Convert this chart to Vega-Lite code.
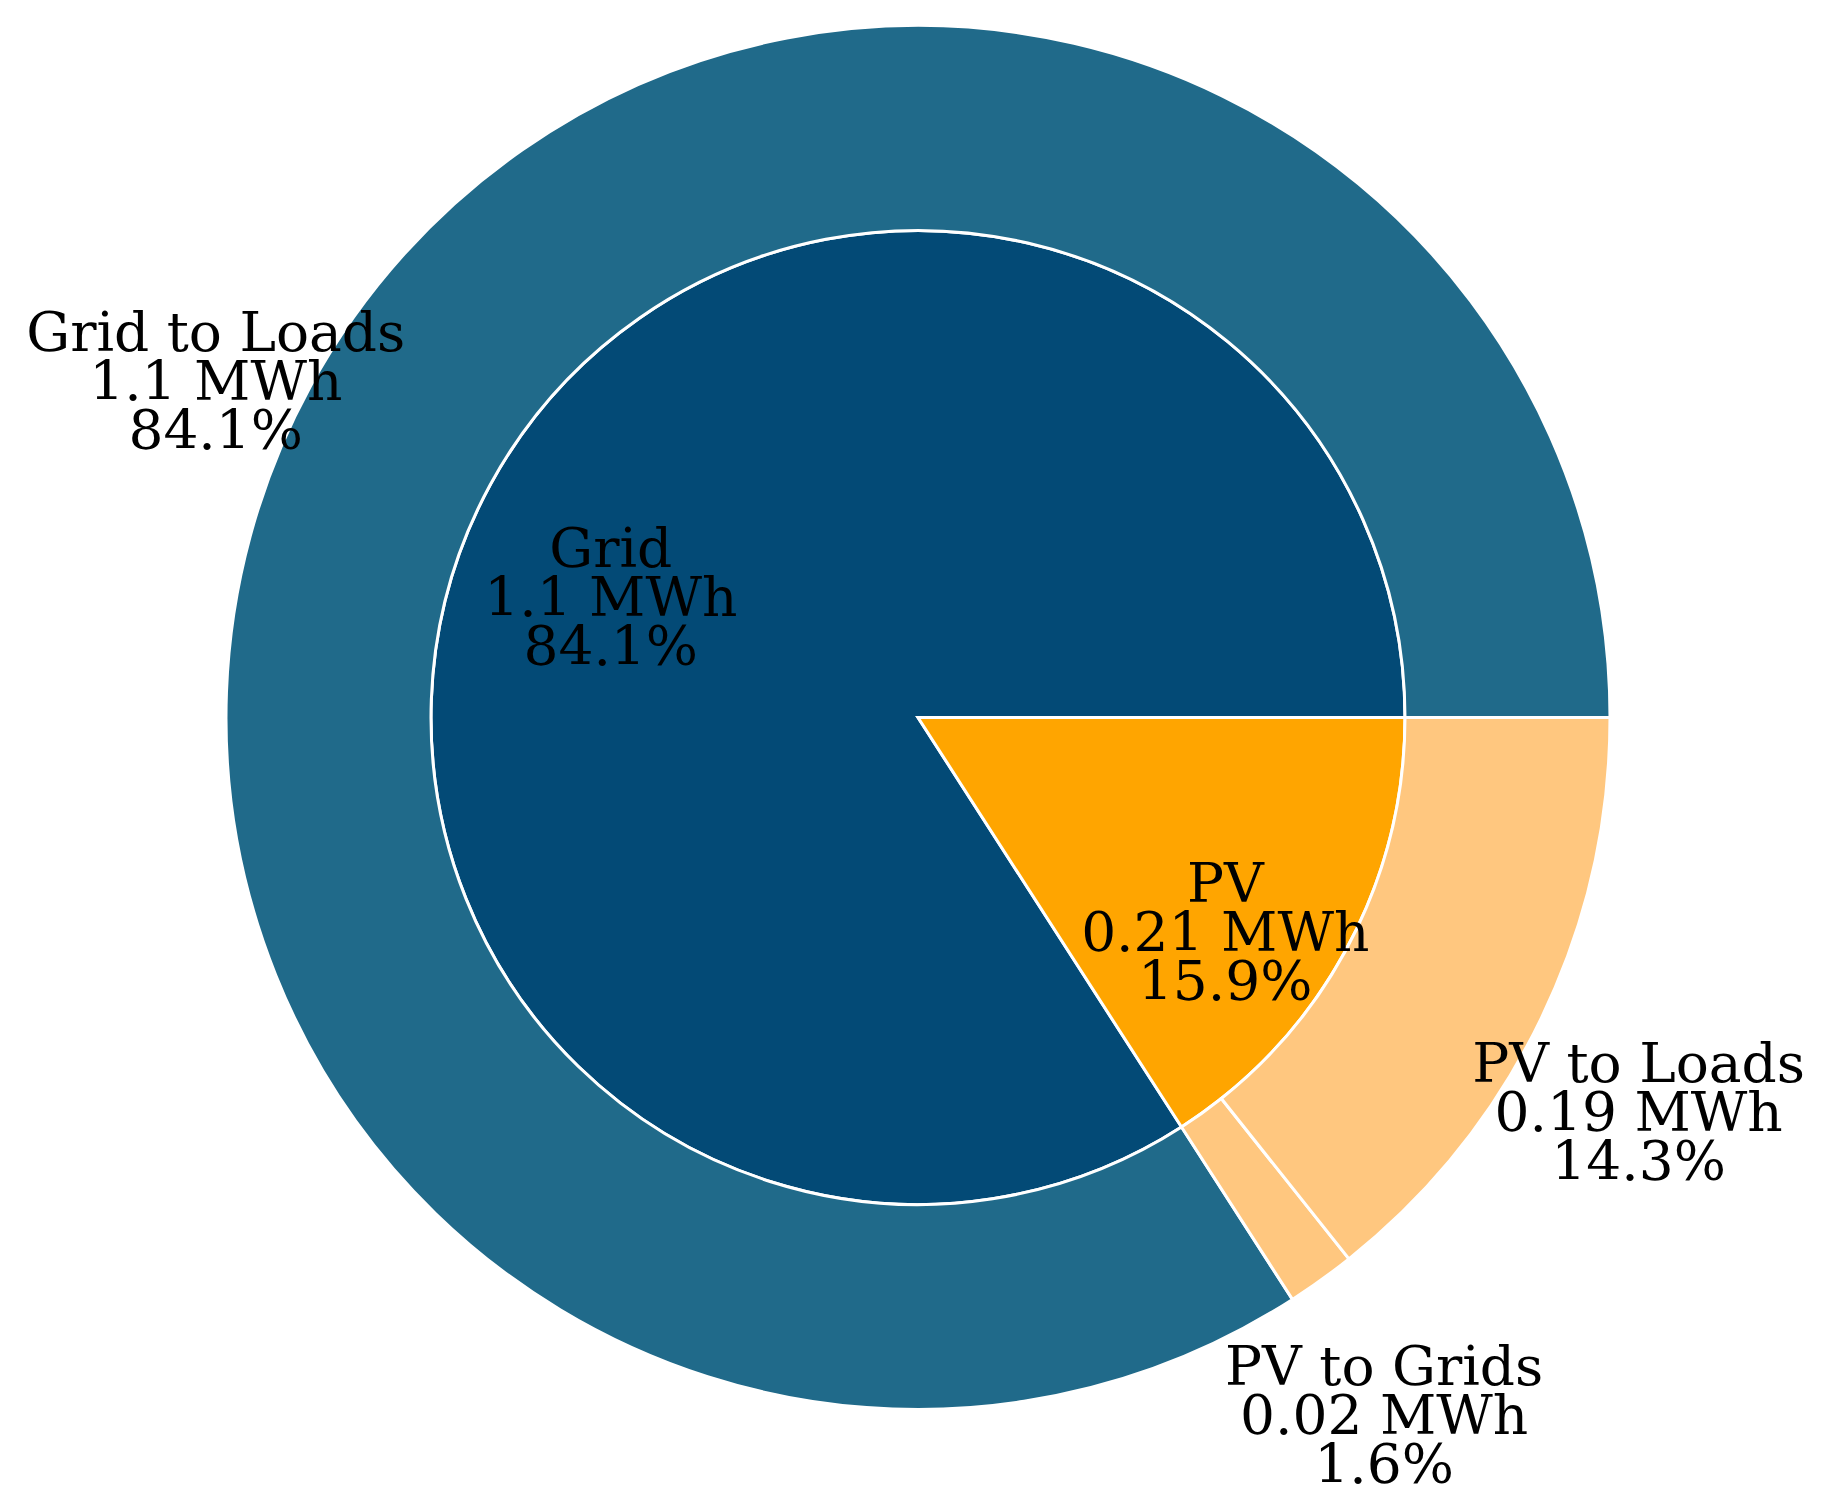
{
  "$schema": "https://vega.github.io/schema/vega-lite/v6.json",
  "width": 1808,
  "height": 1435,
  "autosize": "none",
  "padding": {"left": 14, "right": 0, "top": 0, "bottom": 72},
  "background": "white",
  "config": {"view": {"stroke": null}},
  "datasets": {
    "inner": [
      {"name": "Grid", "label": "Grid\n1.1 MWh\n84.1%", "value": 84.1},
      {"name": "PV", "label": "PV\n0.21 MWh\n15.9%", "value": 15.9}
    ],
    "outer": [
      {"name": "Grid to Loads", "label": "Grid to Loads\n1.1 MWh\n84.1%", "value": 84.1},
      {"name": "PV to Grids", "label": "PV to Grids\n0.02 MWh\n1.6%", "value": 1.6},
      {"name": "PV to Loads", "label": "PV to Loads\n0.19 MWh\n14.3%", "value": 14.3}
    ]
  },
  "resolve": {"scale": {"color": "independent"}},
  "layer": [
    {
      "data": {"name": "inner"},
      "mark": {"type": "arc", "outerRadius": 487, "innerRadius": 0, "stroke": "white", "strokeWidth": 3},
      "encoding": {
        "theta": {"field": "value", "type": "quantitative", "stack": true, "scale": {"domain": [0, 100], "range": [7.853981634, 1.570796327]}},
        "order": {"field": "name", "type": "ordinal", "sort": "ascending"},
        "color": {"field": "name", "type": "nominal", "legend": null, "scale": {"domain": ["Grid", "PV"], "range": ["#034A76", "#FFA500"]}}
      }
    },
    {
      "data": {"name": "outer"},
      "mark": {"type": "arc", "outerRadius": 692, "innerRadius": 487, "stroke": "white", "strokeWidth": 3},
      "encoding": {
        "theta": {"field": "value", "type": "quantitative", "stack": true},
        "order": {"field": "name", "type": "ordinal", "sort": "ascending"},
        "color": {"field": "name", "type": "nominal", "legend": null, "scale": {"domain": ["Grid to Loads", "PV to Grids", "PV to Loads"], "range": ["#206A8A", "#FFC77F", "#FFC77F"]}}
      }
    },
    {
      "data": {"name": "inner"},
      "mark": {"type": "text", "radius": 350, "font": "DejaVu Serif", "fontSize": 55, "lineHeight": 49, "lineBreak": "\n", "align": "center", "baseline": "middle", "color": "black"},
      "encoding": {
        "theta": {"field": "value", "type": "quantitative", "stack": true},
        "order": {"field": "name", "type": "ordinal", "sort": "ascending"},
        "text": {"field": "label", "type": "nominal"}
      }
    },
    {
      "data": {"name": "outer"},
      "mark": {"type": "text", "radius": 800, "font": "DejaVu Serif", "fontSize": 55, "lineHeight": 49, "lineBreak": "\n", "align": "center", "baseline": "middle", "color": "black"},
      "encoding": {
        "theta": {"field": "value", "type": "quantitative", "stack": true},
        "order": {"field": "name", "type": "ordinal", "sort": "ascending"},
        "text": {"field": "label", "type": "nominal"}
      }
    }
  ]
}
